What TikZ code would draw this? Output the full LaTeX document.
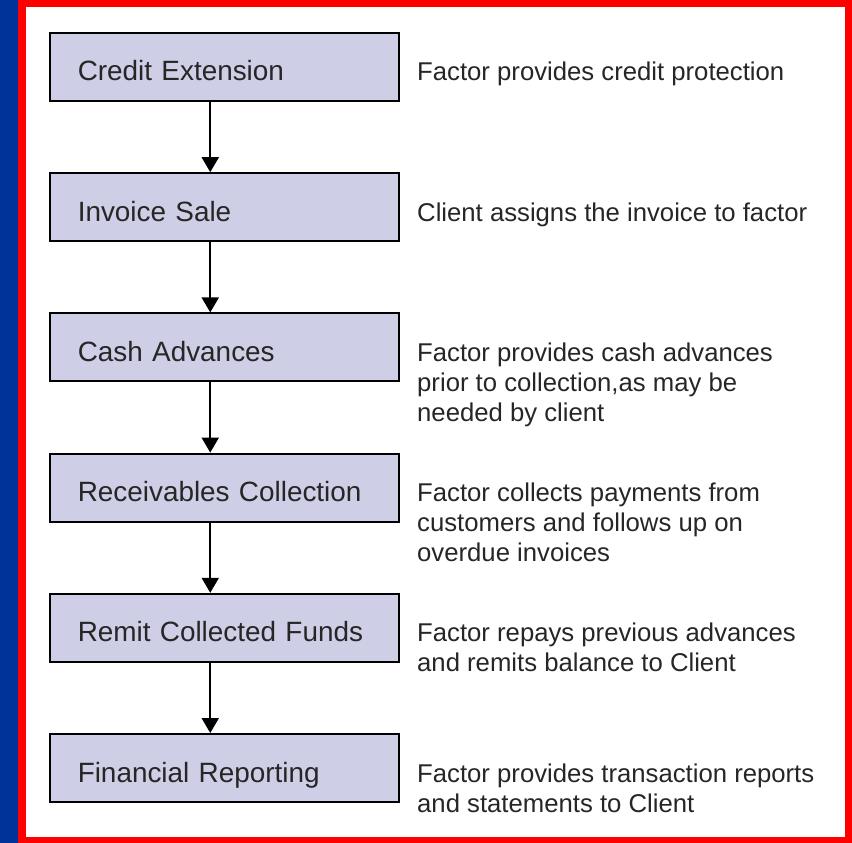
\documentclass[tikz,border=0pt]{standalone}
\usepackage{fontspec}
\setmainfont{Liberation Sans}
\usetikzlibrary{positioning, arrows.meta}
\definecolor{boxfill}{RGB}{206,206,230}
\definecolor{slideblue}{RGB}{0,51,153}
\definecolor{framered}{RGB}{255,0,0}

\begin{document}
\begin{tikzpicture}[x=1pt, y=-1pt,
    stage/.style={rectangle, draw=black, line width=2pt, fill=boxfill,
        minimum width=349pt, minimum height=68pt, inner xsep=28pt, inner ysep=0pt,
        text width=293pt, align=left, text height=34pt, text depth=6pt,
        font=\fontsize{27.9}{33}\selectfont, text=black!85},
    note/.style={anchor=base west, align=left, inner sep=0pt,
        font=\fontsize{25.7}{30}\selectfont, text=black!85},
    flow/.style={line width=2pt, -{Triangle[width=17pt,length=15pt]}}]

    % Slide background and red frame
    \fill[slideblue] (0,0) rectangle (852,843);
    \fill[framered] (18,0) rectangle (852,843);
    \fill[white] (26,7) rectangle (845,837);

    % Stages of the process
    \node[stage] (credit)  at (224.25,67)    {Credit Extension};
    \node[stage] (invoice) at (224.25,207.2) {Invoice Sale};
    \node[stage] (cash)    at (224.25,347.4) {Cash Advances};
    \node[stage] (collect) at (224.25,487.6) {Receivables Collection};
    \node[stage] (remit)   at (224.25,627.8) {Remit Collected Funds};
    \node[stage] (report)  at (224.25,768)   {Financial Reporting};

    % Arrows between the stages
    \draw[flow] ([xshift=-14pt]credit.south)  -- ([xshift=-14pt]invoice.north);
    \draw[flow] ([xshift=-14pt]invoice.south) -- ([xshift=-14pt]cash.north);
    \draw[flow] ([xshift=-14pt]cash.south)    -- ([xshift=-14pt]collect.north);
    \draw[flow] ([xshift=-14pt]collect.south) -- ([xshift=-14pt]remit.north);
    \draw[flow] ([xshift=-14pt]remit.south)   -- ([xshift=-14pt]report.north);

    % Notes beside the stages (base = baseline of the last line)
    \node[note] (creditnote)  at (417,81)    {Factor provides credit protection};
    \node[note] (invoicenote) at (417,221.2) {Client assigns the invoice to factor};
    \node[note] (cashnote)    at (417,421.4) {Factor provides cash advances\\prior to collection,as may be\\needed by client};
    \node[note] (collectnote) at (417,561.6) {Factor collects payments from\\customers and follows up on\\overdue invoices};
    \node[note] (remitnote)   at (417,671.8) {Factor repays previous advances\\and remits balance to Client};
    \node[note] (reportnote)  at (417,812)   {Factor provides transaction reports\\and statements to Client};
\end{tikzpicture}
\end{document}
